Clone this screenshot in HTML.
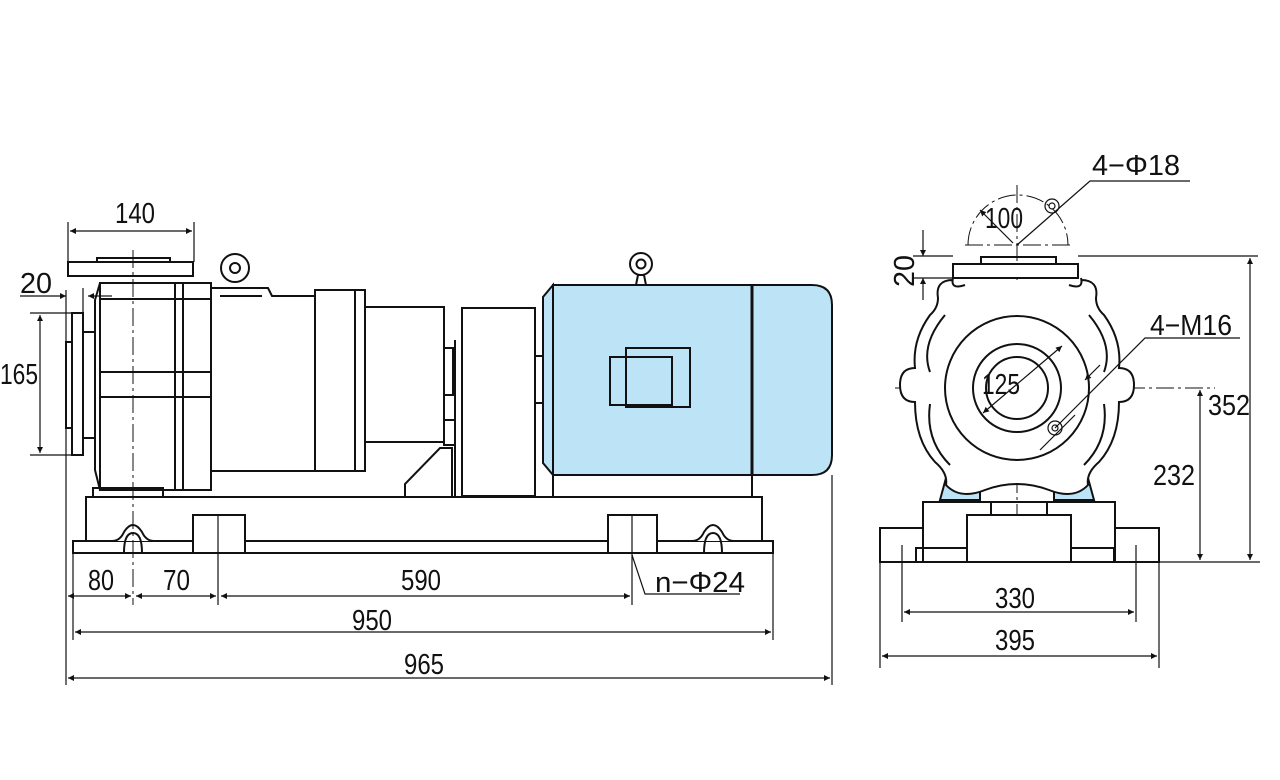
<!DOCTYPE html>
<html><head><meta charset="utf-8"><style>
html,body{margin:0;padding:0;background:#fff;width:1280px;height:780px;overflow:hidden}
svg{display:block}
text{font-family:"Liberation Sans Narrow","Liberation Sans",sans-serif;font-size:29px;fill:#111}
</style></head><body>
<svg width="1280" height="780" viewBox="0 0 1280 780" xmlns="http://www.w3.org/2000/svg">
<defs>
<marker id="a" viewBox="0 0 10 10" refX="10" refY="5" markerWidth="14" markerHeight="6" orient="auto-start-reverse" markerUnits="userSpaceOnUse"><path d="M0,0L10,5L0,10z" fill="#111"/></marker>
</defs>
<g fill="none" stroke="#111" stroke-width="2">
<rect x="68" y="262" width="125" height="14"/>
<rect x="97" y="258" width="73" height="4"/>
<rect x="66" y="342" width="6" height="86"/>
<rect x="72" y="313" width="11" height="142"/>
<rect x="83" y="332" width="12" height="106"/>
<path d="M100,283 L95,300 L95,470 L100,490"/>
<rect x="100" y="283" width="111" height="207"/>
<line x1="175" y1="283" x2="175" y2="490"/>
<line x1="183" y1="283" x2="183" y2="490"/>
<line x1="100" y1="372" x2="211" y2="372"/>
<line x1="100" y1="397" x2="211" y2="397"/>
<line x1="100" y1="299" x2="211" y2="299"/>
<rect x="93" y="488" width="70" height="9"/>
<path d="M211,288 L268,288 L272,296 L315,296 L315,471 L211,471"/>
<line x1="220" y1="296" x2="262" y2="296"/>
<circle cx="235" cy="268" r="14"/>
<circle cx="235" cy="268" r="5"/>
<rect x="315" y="290" width="40" height="181"/>
<rect x="355" y="290" width="10" height="181"/>
<rect x="365" y="307" width="79" height="135"/>
<rect x="444" y="348" width="9" height="47"/>
<rect x="444" y="420" width="11" height="25"/>
<path d="M405,496 L405,484 L440,448 L452,448 L452,496"/>
<line x1="455" y1="340" x2="455" y2="496"/>
<rect x="462" y="308" width="73" height="188"/>
<line x1="535" y1="356" x2="543" y2="356"/><line x1="535" y1="403" x2="543" y2="403"/>
<path d="M553,285 L543,297 L543,463 L553,475 Z" fill="#bde3f7"/>
<rect x="553" y="285" width="199" height="190" fill="#bde3f7"/>
<path d="M752,285 L812,285 Q832,285 832,305 L832,455 Q832,475 812,475 L752,475 Z" fill="#bde3f7"/>
<line x1="752" y1="285" x2="752" y2="475" stroke-width="3"/>
<rect x="610" y="357" width="62" height="48"/>
<rect x="626" y="348" width="64" height="59"/>
<circle cx="641" cy="264" r="11"/><circle cx="641" cy="264" r="4.5"/>
<path d="M636,285 L638,275 L644,275 L646,285"/>
<line x1="553" y1="475" x2="553" y2="496"/><line x1="752" y1="475" x2="752" y2="496"/>
<rect x="86" y="497" width="676" height="44"/>
<rect x="73" y="541" width="700" height="12" fill="#fff"/>
<path d="M112,541 Q120,541 124,532 Q133,518 142,532 Q146,541 154,541" fill="#fff"/>
<path d="M692,541 Q700,541 704,532 Q713,518 722,532 Q726,541 734,541" fill="#fff"/>
<path d="M124,553 Q124,533 133,533 Q142,533 142,553"/>
<path d="M704,553 Q704,533 713,533 Q722,533 722,553"/>
<rect x="193" y="515" width="52" height="38" fill="#fff"/>
<rect x="608" y="515" width="49" height="38" fill="#fff"/>
</g>
<g stroke="#111" stroke-width="1" fill="none" stroke-dasharray="18,4,3,4">
<line x1="133" y1="250" x2="133" y2="605"/>
<line x1="1017" y1="185" x2="1017" y2="520"/>
<line x1="895" y1="388" x2="1215" y2="388"/>
<line x1="965" y1="245" x2="1070" y2="245"/>
<path d="M968,245 A50,50 0 0 1 1068,245"/>
<circle cx="1017" cy="388" r="57"/>
</g>
<g stroke="#111" stroke-width="1.2" fill="none">
<line x1="68" y1="222" x2="68" y2="262"/><line x1="194" y1="222" x2="194" y2="262"/>
<line x1="70" y1="231" x2="192" y2="231" marker-start="url(#a)" marker-end="url(#a)"/>
<line x1="83" y1="288" x2="83" y2="313"/>
<line x1="20" y1="296" x2="66" y2="296" marker-end="url(#a)"/><line x1="100" y1="296" x2="112" y2="296"/>
<line x1="88" y1="296" x2="100" y2="296" marker-start="url(#a)"/>
<line x1="30" y1="313" x2="72" y2="313"/><line x1="30" y1="455" x2="72" y2="455"/>
<line x1="40" y1="315" x2="40" y2="453" marker-start="url(#a)" marker-end="url(#a)"/>
<line x1="66" y1="290" x2="66" y2="685"/><line x1="832" y1="475" x2="832" y2="685"/>
<line x1="73" y1="553" x2="73" y2="640"/><line x1="773" y1="553" x2="773" y2="640"/>
<line x1="218" y1="515" x2="218" y2="605"/><line x1="632" y1="515" x2="632" y2="605"/>
<line x1="68" y1="596" x2="131" y2="596" marker-start="url(#a)" marker-end="url(#a)"/>
<line x1="136" y1="596" x2="216" y2="596" marker-start="url(#a)" marker-end="url(#a)"/>
<line x1="221" y1="596" x2="630" y2="596" marker-start="url(#a)" marker-end="url(#a)"/>
<line x1="75" y1="632" x2="771" y2="632" marker-start="url(#a)" marker-end="url(#a)"/>
<line x1="68" y1="678" x2="830" y2="678" marker-start="url(#a)" marker-end="url(#a)"/>
<path d="M632,555 L645,594 L740,594"/>
</g>
<text x="115" y="223" textLength="40" lengthAdjust="spacingAndGlyphs">140</text>
<text x="20" y="293" textLength="32" lengthAdjust="spacingAndGlyphs">20</text>
<text x="0" y="384" textLength="38" lengthAdjust="spacingAndGlyphs">165</text>
<text x="88" y="590" textLength="26" lengthAdjust="spacingAndGlyphs">80</text>
<text x="163" y="590" textLength="27" lengthAdjust="spacingAndGlyphs">70</text>
<text x="401" y="590" textLength="40" lengthAdjust="spacingAndGlyphs">590</text>
<text x="655" y="592" textLength="90" lengthAdjust="spacingAndGlyphs">n−Φ24</text>
<text x="352" y="630" textLength="40" lengthAdjust="spacingAndGlyphs">950</text>
<text x="404" y="674" textLength="40" lengthAdjust="spacingAndGlyphs">965</text>
<g fill="none" stroke="#111" stroke-width="2">
<path d="M940,500 L946,478 L980,478 L980,500 Z M1094,500 L1088,478 L1054,478 L1054,500 Z" fill="#bde3f7"/>
<path d="M953,278 Q950,290 965,285 M1081,278 Q1084,290 1069,285
M953,280 Q935,280 938,298 Q938,308 930,315 Q912,340 915,368 Q900,368 900,385 Q900,402 915,402 Q915,440 935,462 Q948,473 946,485 Q960,500 985,490 Q1017,478 1049,490 Q1074,500 1088,485 Q1086,473 1099,462 Q1119,440 1119,402 Q1134,402 1134,385 Q1134,368 1119,368 Q1122,340 1104,315 Q1096,308 1096,298 Q1099,280 1081,280" fill="#fff"/>
<path d="M930,372 Q920,345 945,315 M1104,372 Q1114,345 1089,315 M930,404 Q925,440 950,465 M1104,404 Q1109,440 1084,465"/>
<circle cx="1017" cy="388" r="72"/>
<circle cx="1017" cy="388" r="44"/>
<circle cx="1017" cy="388" r="31"/>
<rect x="953" y="264" width="125" height="14" fill="#fff"/>
<rect x="981" y="257" width="75" height="7"/>
<rect x="923" y="502" width="192" height="46"/>
<rect x="991" y="502" width="56" height="13"/>
<rect x="880" y="528" width="43" height="34"/>
<rect x="1115" y="528" width="44" height="34"/>
<rect x="916" y="548" width="51" height="14"/>
<rect x="1071" y="548" width="43" height="14"/>
<rect x="967" y="515" width="104" height="47" fill="#fff"/>
</g>
<g stroke="#111" stroke-width="1.2" fill="none">
<circle cx="1052" cy="206" r="7"/><circle cx="1052" cy="206" r="3"/>
<circle cx="1055" cy="428" r="7"/><circle cx="1055" cy="428" r="3"/>
<path d="M1017,245 L1090,181 L1190,181"/>
<path d="M1055,428 L1145,338 L1240,338"/>
<line x1="983" y1="413" x2="1062" y2="346" marker-start="url(#a)" marker-end="url(#a)"/>
<line x1="1100" y1="365" x2="1085" y2="380" marker-end="url(#a)"/>
<line x1="1040" y1="450" x2="1075" y2="415"/>
<line x1="1013" y1="243" x2="980" y2="210" marker-end="url(#a)"/>
<line x1="880" y1="562" x2="880" y2="668"/><line x1="1159" y1="562" x2="1159" y2="668"/>
<line x1="902" y1="545" x2="902" y2="622"/><line x1="1136" y1="545" x2="1136" y2="622"/>
<line x1="904" y1="612" x2="1134" y2="612" marker-start="url(#a)" marker-end="url(#a)"/>
<line x1="882" y1="656" x2="1157" y2="656" marker-start="url(#a)" marker-end="url(#a)"/>
<line x1="1159" y1="562" x2="1260" y2="562"/>
<line x1="1078" y1="256" x2="1258" y2="256"/>
<line x1="913" y1="256" x2="953" y2="256"/><line x1="913" y1="278" x2="953" y2="278"/>
<line x1="923" y1="230" x2="923" y2="256" marker-end="url(#a)"/>
<line x1="923" y1="300" x2="923" y2="278" marker-end="url(#a)"/>
<line x1="1250" y1="258" x2="1250" y2="560" marker-start="url(#a)" marker-end="url(#a)"/>
<line x1="1200" y1="390" x2="1200" y2="560" marker-start="url(#a)" marker-end="url(#a)"/>
</g>
<text x="1092" y="175" textLength="88" lengthAdjust="spacingAndGlyphs">4−Φ18</text>
<text x="985" y="228" textLength="38" lengthAdjust="spacingAndGlyphs">100</text>
<text x="1150" y="335" textLength="82" lengthAdjust="spacingAndGlyphs">4−M16</text>
<text x="982" y="394" textLength="38" lengthAdjust="spacingAndGlyphs">125</text>
<text x="1208" y="415" textLength="42" lengthAdjust="spacingAndGlyphs">352</text>
<text x="1153" y="485" textLength="42" lengthAdjust="spacingAndGlyphs">232</text>
<text x="995" y="608" textLength="40" lengthAdjust="spacingAndGlyphs">330</text>
<text x="995" y="650" textLength="40" lengthAdjust="spacingAndGlyphs">395</text>
<text transform="translate(914,287) rotate(-90)" textLength="32" lengthAdjust="spacingAndGlyphs">20</text>
</svg>
</body></html>
